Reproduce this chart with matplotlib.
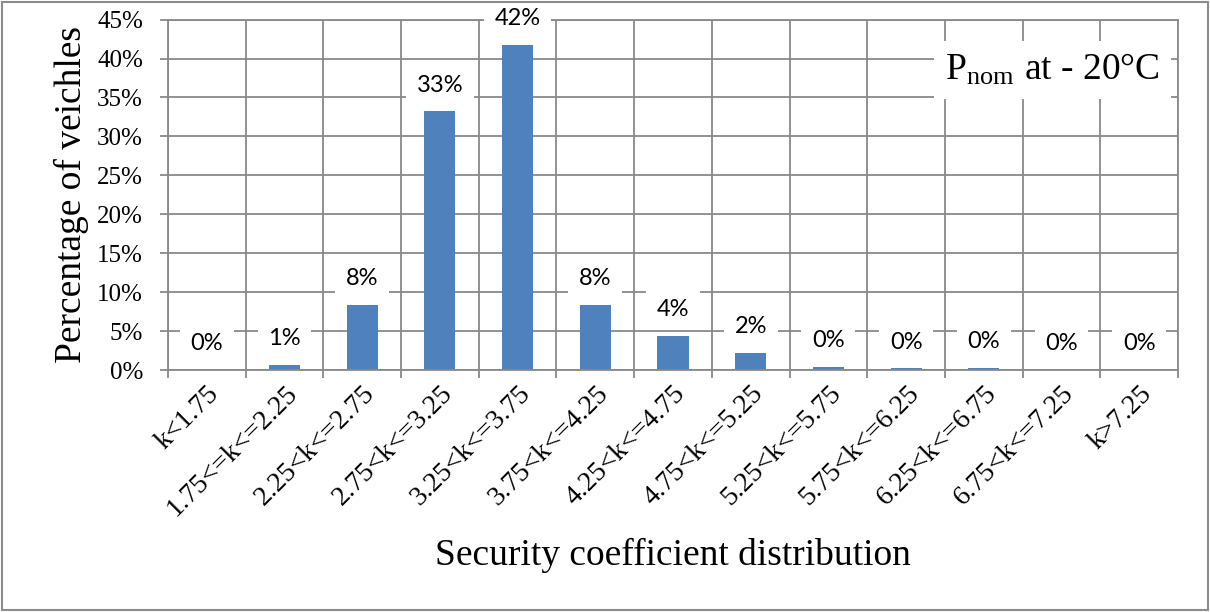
import matplotlib
matplotlib.use("Agg")
import matplotlib.pyplot as plt
from matplotlib.patches import Rectangle
import numpy as np

categories = ["k<1.75", "1.75<=k<=2.25", "2.25<k<=2.75", "2.75<k<=3.25",
              "3.25<k<=3.75", "3.75<k<=4.25", "4.25<k<=4.75", "4.75<k<=5.25",
              "5.25<k<=5.75", "5.75<k<=6.25", "6.25<k<=6.75", "6.75<k<=7.25",
              "k>7.25"]
percent = [0.0, 0.6, 8.3, 33.2, 41.8, 8.3, 4.4, 2.2, 0.45, 0.2, 0.3, 0.05, 0.0]
yticks = [0, 5, 10, 15, 20, 25, 30, 35, 40, 45]

plt.rcParams["font.family"] = ["Liberation Serif", "DejaVu Serif"]
plt.rcParams["mathtext.fontset"] = "stix"

grid_col = "#898989"

fig = plt.figure(figsize=(12.1, 6.12), dpi=100)
ax = fig.add_axes([0.1388, 0.3954, 0.8348, 0.5726])

x = np.arange(len(categories))
ax.bar(x, percent, width=0.4, color="#4F81BD", zorder=2)

ax.set_xlim(-0.5, len(categories) - 0.5)
ax.set_ylim(0, 45)
ax.set_axisbelow(True)

# y axis
ax.set_yticks(yticks)
ax.set_yticklabels([str(t) + "%" for t in yticks])
ax.yaxis.grid(True, color=grid_col, linewidth=1.3)
ax.tick_params(axis="y", direction="out", length=6, width=1.3, color=grid_col,
               labelsize=18, pad=12)

# x axis: labels at centers, ticks & grid at boundaries
ax.set_xticks(x)
ax.set_xticklabels(categories, rotation=45, ha="right", va="top",
                   rotation_mode="anchor")
ax.set_xticks(np.arange(-0.5, len(categories), 1), minor=True)
ax.xaxis.grid(True, which="minor", color=grid_col, linewidth=1.3)
ax.tick_params(axis="x", which="major", length=0, labelsize=20, pad=8)
ax.tick_params(axis="x", which="minor", direction="out", length=6, width=1.3,
               color=grid_col)

for s in ax.spines.values():
    s.set_color(grid_col)
    s.set_linewidth(1.3)

ax.set_ylabel("Percentage of veichles", fontsize=27, labelpad=6)
ax.set_xlabel("Security coefficient distribution", fontsize=27, labelpad=12)

# data labels
for xi, v in zip(x, percent):
    ax.annotate(str(int(round(v))) + "%", xy=(xi, v), xytext=(0, 19),
                textcoords="offset points", ha="center", va="center",
                fontsize=17, family=["Lato", "DejaVu Sans"],
                bbox=dict(boxstyle="square,pad=0.45", fc="white", ec="none"),
                zorder=4)

ax.text(0.876, 0.856, "P$_{\\mathregular{nom}}$ at - 20°C", transform=ax.transAxes,
        ha="center", va="center", fontsize=27,
        bbox=dict(boxstyle="square,pad=0.3", fc="white", ec="none"), zorder=5)

fig.patches.append(Rectangle((0.002, 0.004), 0.996, 0.992, transform=fig.transFigure,
                             fill=False, edgecolor="#8c8c8c", linewidth=1.5))

fig.savefig("out.png", dpi=100)
